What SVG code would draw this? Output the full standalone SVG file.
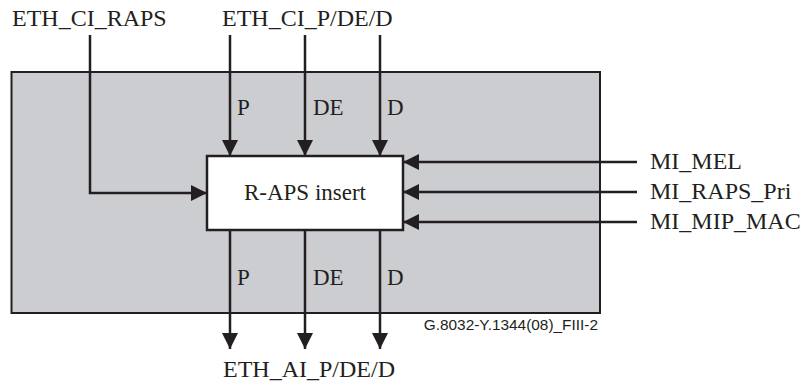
<svg xmlns="http://www.w3.org/2000/svg" width="801" height="385" viewBox="0 0 801 385">
  <style>
    .lbl { font-family: "Liberation Serif", "Times New Roman", serif; font-size: 24px; fill: #231f20; }
    .sig { font-family: "Liberation Serif", "Times New Roman", serif; font-size: 23px; fill: #231f20; }
    .tag { font-family: "Liberation Sans", Arial, sans-serif; font-size: 15.4px; fill: #231f20; }
    .wire { stroke: #231f20; stroke-width: 2.5; fill: none; marker-end: url(#head); }
  </style>
  <defs>
    <marker id="head" markerUnits="userSpaceOnUse" markerWidth="16" markerHeight="16" viewBox="0 0 16 16" refX="16" refY="8" orient="auto">
      <path d="M0,0 L16,8 L0,16 Z" fill="#231f20"/>
    </marker>
  </defs>

  <!-- enclosing function area -->
  <g id="area">
    <rect x="11.5" y="72" width="588.5" height="241" fill="#cccdd1" stroke="#231f20" stroke-width="2"/>
  </g>

  <!-- signal connectors -->
  <g id="connectors">
    <path class="wire" d="M90,35 V193 H207"/>
    <path class="wire" d="M230,35 V156"/>
    <path class="wire" d="M305,35 V156"/>
    <path class="wire" d="M380,35 V156"/>
    <path class="wire" d="M637,162 H403"/>
    <path class="wire" d="M637,192 H403"/>
    <path class="wire" d="M637,222 H403"/>
    <path class="wire" d="M230,230 V349"/>
    <path class="wire" d="M305,230 V349"/>
    <path class="wire" d="M380,230 V349"/>
  </g>

  <!-- process block -->
  <g id="raps-insert">
    <rect x="207" y="156" width="196" height="74" fill="#ffffff" stroke="#231f20" stroke-width="2.5"/>
    <text class="sig" x="305" y="200" text-anchor="middle">R-APS insert</text>
  </g>

  <!-- input / output names -->
  <g id="ci-raps"><text class="lbl" x="12" y="26">ETH_CI_RAPS</text></g>
  <g id="ci-pded"><text class="lbl" x="222" y="26">ETH_CI_P/DE/D</text></g>
  <g id="ai-pded"><text class="lbl" x="223" y="377">ETH_AI_P/DE/D</text></g>
  <g id="mi-mel"><text class="lbl" x="650" y="169">MI_MEL</text></g>
  <g id="mi-raps-pri"><text class="lbl" x="650" y="199">MI_RAPS_Pri</text></g>
  <g id="mi-mip-mac"><text class="lbl" x="650" y="229">MI_MIP_MAC</text></g>

  <!-- per-wire signal names -->
  <g id="wire-names">
    <text class="sig" x="237" y="115">P</text>
    <text class="sig" x="313" y="115">DE</text>
    <text class="sig" x="387" y="115">D</text>
    <text class="sig" x="237" y="285">P</text>
    <text class="sig" x="313" y="285">DE</text>
    <text class="sig" x="387" y="285">D</text>
  </g>

  <g id="figure-ref"><text class="tag" x="598" y="330" text-anchor="end">G.8032-Y.1344(08)_FIII-2</text></g>
</svg>
